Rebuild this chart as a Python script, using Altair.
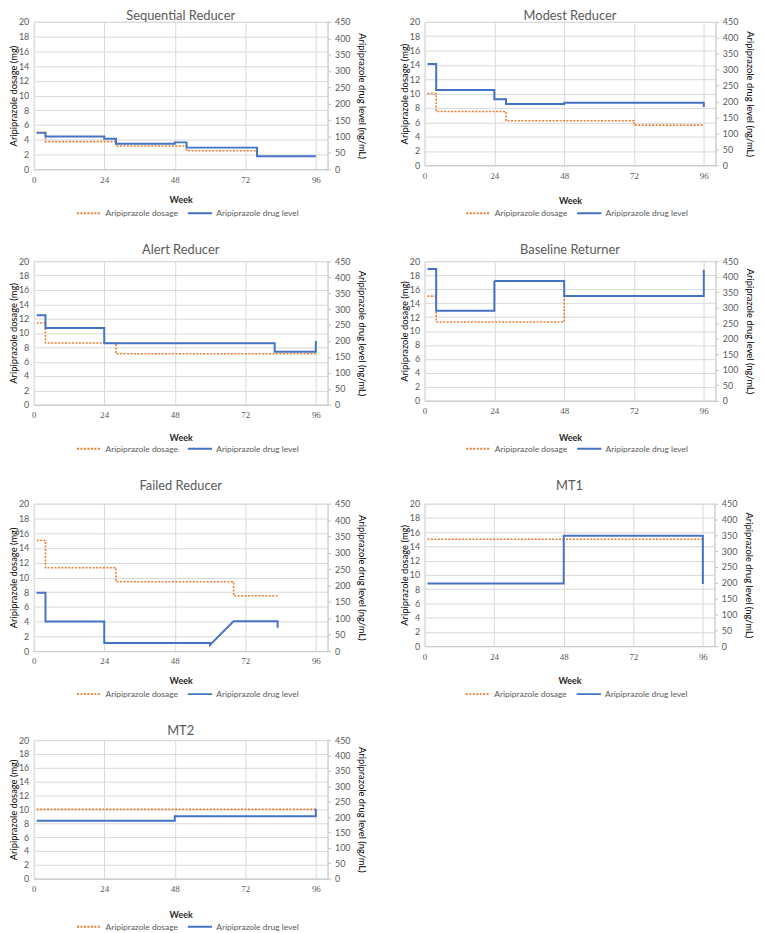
import altair as alt
import pandas as pd

# ---------------- data ----------------
SERIES = ["Aripiprazole dosage", "Aripiprazole drug level"]
SERIES_COLORS = ["#ED7D31", "#4472C4"]
SERIES_DASH = [[2, 1.5], [1, 0]]
WEEK_TICKS = [0, 24, 48, 72, 96]
DOSE_TICKS = [0, 2, 4, 6, 8, 10, 12, 14, 16, 18, 20]
LEVEL_TICKS = [0, 50, 100, 150, 200, 250, 300, 350, 400, 450]

PANEL_TITLES = ["Sequential Reducer", "Modest Reducer", "Alert Reducer",
                "Baseline Returner", "Failed Reducer", "MT1", "MT2"]

# Sequential Reducer
SEQ_DOSE_WEEK = [1, 4, 4, 28, 28, 52, 52, 76]
SEQ_DOSE_MG = [5, 5, 3.75, 3.75, 3.15, 3.15, 2.5, 2.5]
SEQ_LEVEL_WEEK = [1, 4, 4, 24, 24, 28, 28, 48, 48, 52, 52, 76, 76, 96]
SEQ_LEVEL_NG = [111, 111, 100, 100, 93, 93, 78, 78, 82, 82, 66, 66, 40, 40]

# Modest Reducer
MOD_DOSE_WEEK = [1, 4, 4, 28, 28, 72, 72, 96]
MOD_DOSE_MG = [10, 10, 7.5, 7.5, 6.2, 6.2, 5.6, 5.6]
MOD_LEVEL_WEEK = [1, 4, 4, 24, 24, 28, 28, 48, 48, 96, 96]
MOD_LEVEL_NG = [318, 318, 236, 236, 207, 207, 192, 192, 196, 196, 183]

# Alert Reducer
ALE_DOSE_WEEK = [1, 4, 4, 28, 28, 96]
ALE_DOSE_MG = [11.4, 11.4, 8.6, 8.6, 7.1, 7.1]
ALE_LEVEL_WEEK = [1, 4, 4, 24, 24, 82, 82, 96, 96]
ALE_LEVEL_NG = [281, 281, 241, 241, 193, 193, 166, 166, 200]

# Baseline Returner
BAS_DOSE_WEEK = [1, 4, 4, 48, 48, 96]
BAS_DOSE_MG = [15, 15, 11.3, 11.3, 15, 15]
BAS_LEVEL_WEEK = [1, 4, 4, 24, 24, 48, 48, 96, 96]
BAS_LEVEL_NG = [425, 425, 290, 290, 386, 386, 338, 338, 423]

# Failed Reducer
FAI_DOSE_WEEK = [1, 4, 4, 28, 28, 68, 68, 83]
FAI_DOSE_MG = [15, 15, 11.3, 11.3, 9.4, 9.4, 7.5, 7.5]
FAI_LEVEL_WEEK = [1, 4, 4, 24, 24, 60, 60, 68, 83, 83]
FAI_LEVEL_NG = [178, 178, 90, 90, 25, 25, 19, 91, 91, 71]

# MT1
MT1_DOSE_WEEK = [1, 96]
MT1_DOSE_MG = [15, 15]
MT1_LEVEL_WEEK = [1, 48, 48, 96, 96]
MT1_LEVEL_NG = [198, 198, 349, 349, 196]

# MT2
MT2_DOSE_WEEK = [1, 96]
MT2_DOSE_MG = [10, 10]
MT2_LEVEL_WEEK = [1, 48, 48, 96, 96]
MT2_LEVEL_NG = [188, 188, 203, 203, 227]

PANEL_DATA = [
    (SEQ_DOSE_WEEK, SEQ_DOSE_MG, SEQ_LEVEL_WEEK, SEQ_LEVEL_NG),
    (MOD_DOSE_WEEK, MOD_DOSE_MG, MOD_LEVEL_WEEK, MOD_LEVEL_NG),
    (ALE_DOSE_WEEK, ALE_DOSE_MG, ALE_LEVEL_WEEK, ALE_LEVEL_NG),
    (BAS_DOSE_WEEK, BAS_DOSE_MG, BAS_LEVEL_WEEK, BAS_LEVEL_NG),
    (FAI_DOSE_WEEK, FAI_DOSE_MG, FAI_LEVEL_WEEK, FAI_LEVEL_NG),
    (MT1_DOSE_WEEK, MT1_DOSE_MG, MT1_LEVEL_WEEK, MT1_LEVEL_NG),
    (MT2_DOSE_WEEK, MT2_DOSE_MG, MT2_LEVEL_WEEK, MT2_LEVEL_NG),
]

# ---------------- layout / style ----------------
# (plot width, plot height, title offset, legend y below plot top, x-title padding)
PANEL_LAYOUT = [
    (297, 149, -5, 180, 12),
    (294, 145, -5, 180, 17),
    (297, 145, 0, 176, 14),
    (294, 141, 0, 176, 18),
    (297, 149, 7, 179, 11),
    (293, 144, 7, 179, 16),
    (297, 140, -2, 175, 17),
]

GRID = "#d9d9d9"
LABEL_GREY = "#595959"
FONT = "Lato"
LEGEND_W = 212


def make_panel(title, data, layout):
    dose_w, dose_v, lvl_w, lvl_v = data
    width, height, toff, legy, xtp = layout
    dose_df = pd.DataFrame({"week": dose_w, "value": dose_v,
                            "series": SERIES[0], "i": list(range(len(dose_w)))})
    lvl_df = pd.DataFrame({"week": lvl_w, "value": lvl_v,
                           "series": SERIES[1], "i": list(range(len(lvl_w)))})

    legend = alt.Legend(
        title=None, orient="none", direction="horizontal",
        legendX=(width - LEGEND_W) / 2, legendY=legy,
        symbolType="stroke", symbolSize=600, symbolStrokeWidth=2,
        labelFont=FONT, labelFontSize=8.5, labelColor=LABEL_GREY,
        labelOffset=3, columnPadding=5,
    )
    color = alt.Color("series:N", scale=alt.Scale(domain=SERIES, range=SERIES_COLORS), legend=legend)
    dash = alt.StrokeDash("series:N", scale=alt.Scale(domain=SERIES, range=SERIES_DASH), legend=legend)

    x = alt.X(
        "week:Q",
        scale=alt.Scale(domain=[0, 100], nice=False, zero=False),
        axis=alt.Axis(
            values=WEEK_TICKS, title="Week", grid=True, gridColor=GRID,
            ticks=False, domain=True, domainColor="#c8c8c8",
            labelFont="Liberation Serif", labelFontSize=9, labelColor=LABEL_GREY,
            labelPadding=6, labelFlush=False,
            titleFont=FONT, titleFontSize=9, titleFontWeight="bold",
            titleColor="#262626", titlePadding=xtp,
        ),
    )

    dose = alt.Chart(dose_df).mark_line(strokeWidth=1.6).encode(
        x=x,
        y=alt.Y(
            "value:Q",
            scale=alt.Scale(domain=[0, 20], nice=False),
            axis=alt.Axis(
                values=DOSE_TICKS, title="Aripiprazole dosage (mg)", orient="left",
                grid=True, gridColor=GRID, ticks=False, domain=False,
                labelFont=FONT, labelFontSize=9, labelColor=LABEL_GREY, labelPadding=5,
                titleFont=FONT, titleFontSize=9.5, titleFontWeight="normal",
                titleColor="#000000", titlePadding=0,
            ),
        ),
        color=color,
        strokeDash=dash,
        order="i:Q",
    )

    level = alt.Chart(lvl_df).mark_line(strokeWidth=2).encode(
        x=x,
        y=alt.Y(
            "value:Q",
            scale=alt.Scale(domain=[0, 450], nice=False),
            axis=alt.Axis(
                values=LEVEL_TICKS, title="Aripiprazole drug level (ng/mL)", orient="right",
                grid=False, ticks=True, tickSize=3, tickColor="#bfbfbf",
                domain=True, domainColor="#c8c8c8",
                labelFont=FONT, labelFontSize=9, labelColor=LABEL_GREY, labelPadding=4,
                titleFont=FONT, titleFontSize=9.5, titleFontWeight="normal",
                titleColor="#000000", titlePadding=7,
            ),
        ),
        color=color,
        strokeDash=dash,
        order="i:Q",
    )

    return alt.layer(dose, level).resolve_scale(y="independent").properties(
        width=width,
        height=height,
        title=alt.TitleParams(
            title, font=FONT, fontSize=13, fontWeight="normal",
            color=LABEL_GREY, offset=toff, anchor="middle",
        ),
    )


panels = [make_panel(t, d, l) for t, d, l in zip(PANEL_TITLES, PANEL_DATA, PANEL_LAYOUT)]

chart = (
    alt.concat(*panels, columns=2, spacing={"row": 25, "column": 31})
    .resolve_scale(color="independent", strokeDash="independent")
    .properties(padding={"left": 0, "top": -4, "right": 0, "bottom": 0})
    .configure_view(stroke=None)
    .configure(background="white")
)

chart.save("out.html", embed_options={"renderer": "svg", "actions": False})
